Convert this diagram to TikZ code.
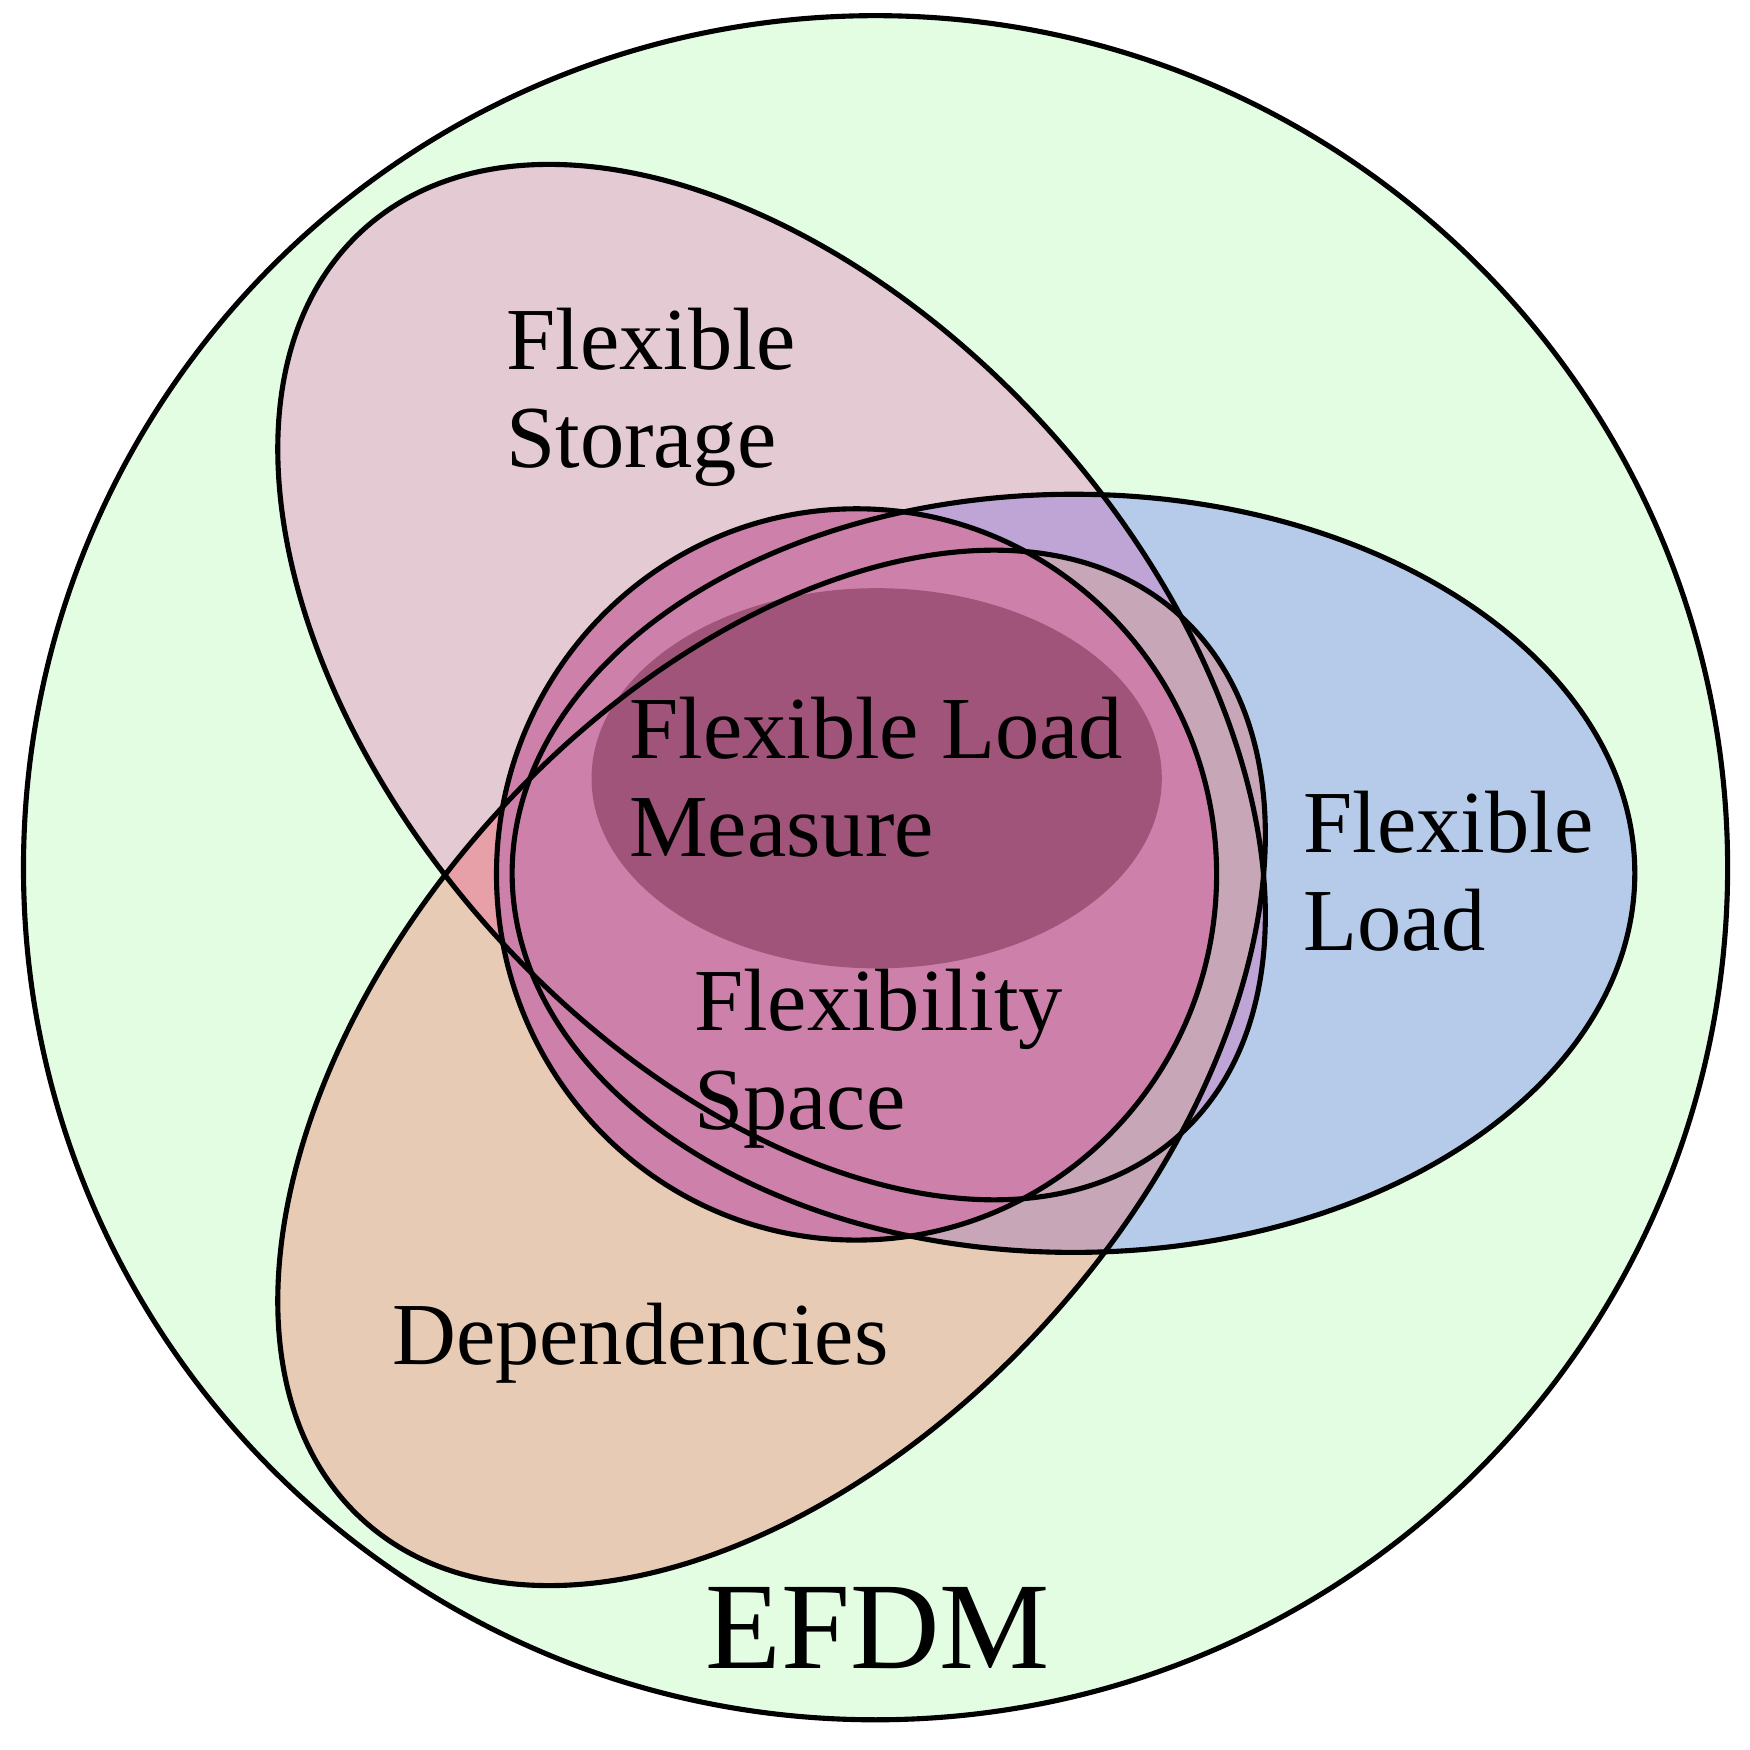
\documentclass[tikz,border=0pt]{standalone}
\usepackage{fontspec}
\setmainfont{Liberation Serif}
\begin{document}
\begin{tikzpicture}[x=0.01cm,y=0.01cm,
  lbl/.style={anchor=base west,inner sep=0pt,font=\fontsize{22.5}{27}\selectfont},
  ln/.style={line width=1.3pt}]
\useasboundingbox (0,0) rectangle (1565,1565);
\definecolor{cOut}{HTML}{E3FDE3}
\definecolor{cSto}{HTML}{E4CBD3}
\definecolor{cLoad}{HTML}{B6CBEA}
\definecolor{cDep}{HTML}{E8CBB5}
\definecolor{cSL}{HTML}{BFA5D5}
\definecolor{cDL}{HTML}{C7A6B8}
\definecolor{cSD}{HTML}{E8A0A8}
\definecolor{cSpace}{HTML}{CD81AA}
\definecolor{cMeas}{HTML}{A05479}
\def\sto{(690,955) ellipse [x radius=545,y radius=335,rotate=-48]}
\def\dep{(690,610) ellipse [x radius=545,y radius=335,rotate=48]}
\def\load{(960,784) ellipse [x radius=502,y radius=339]}
\fill[cOut] (783,789) circle (762);
\fill[cSto] \sto;
\fill[cDep] \dep;
\fill[cLoad] \load;
\begin{scope}\clip \sto; \fill[cSL] \load; \fill[cSD] \dep; \end{scope}
\begin{scope}\clip \dep; \fill[cDL] \load; \end{scope}
\fill[cSpace] (766,783) ellipse [x radius=322,y radius=327];
\fill[cMeas] (784,869) ellipse [x radius=255,y radius=170];
\draw[ln] (783,789) circle (762);
\draw[ln] \sto;
\draw[ln] \dep;
\draw[ln] \load;
\draw[ln] (766,783) ellipse [x radius=322,y radius=327];
\node[lbl] (s1) at (452,1235) {Flexible};
\node[lbl] (s2) at (452,1147) {Storage};
\node[lbl] (m1) at (562,887) {Flexible Load};
\node[lbl] (m2) at (562,799) {Measure};
\node[lbl] (f1) at (620,643) {Flexibility};
\node[lbl] (f2) at (620,555) {Space};
\node[lbl] (l1) at (1165,803) {Flexible};
\node[lbl] (l2) at (1165,715) {Load};
\node[lbl] (d) at (350,345) {Dependencies};
\node[anchor=base,inner sep=0pt,font=\fontsize{31.5}{38}\selectfont] (e) at (785,73) {EFDM};
\end{tikzpicture}
\end{document}
